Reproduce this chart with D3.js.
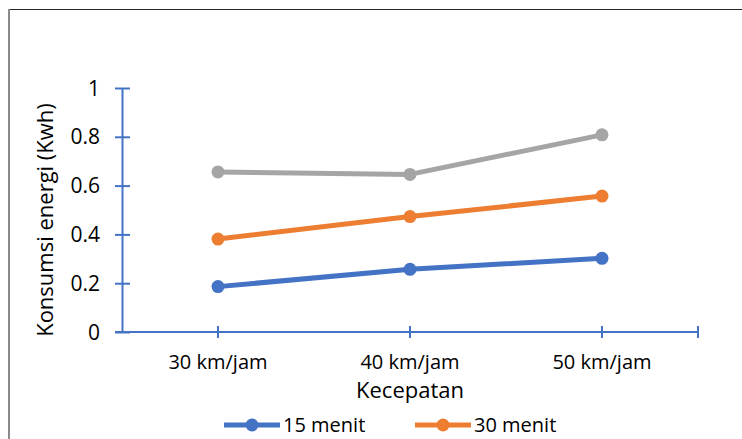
<!DOCTYPE html>
<html>
<head>
<meta charset="utf-8">
<script src="https://cdn.jsdelivr.net/npm/d3@7"></script>
<style>
  html, body { margin: 0; padding: 0; background: #fff; overflow: hidden; }
  svg { display: block; }
  svg text { font-family: "Open Sans", "Noto Sans", sans-serif; fill: #000; }
</style>
</head>
<body>
<svg id="chart" width="742" height="439"></svg>
<script>
// Speed categories and energy use per charging duration
const categories = ["30 km/jam", "40 km/jam", "50 km/jam"];
const seriesNames = ["15 menit", "30 menit", "60 menit"];
const values15 = [0.186, 0.257, 0.302];
const values30 = [0.381, 0.473, 0.557];
const values60 = [0.656, 0.646, 0.808];
const yTicks = [0, 0.2, 0.4, 0.6, 0.8, 1];
const colors = ["#4472C4", "#ED7D31", "#A5A5A5"];

const series = [values15, values30, values60].map((v, i) => ({
  name: seriesNames[i], values: v, color: colors[i]
}));

const svg = d3.select("#chart");
const W = 742, H = 439;
const plot = { left: 122, right: 698, top: 88, bottom: 332 };
const axisColor = "#4472C4";

// Chart frame edges
svg.append("line").attr("x1", 8).attr("x2", W).attr("y1", 9.5).attr("y2", 9.5)
  .attr("stroke", "#222").attr("stroke-width", 1.2);
svg.append("line").attr("x1", 9).attr("x2", 9).attr("y1", 9).attr("y2", H)
  .attr("stroke", "#8a8a8a").attr("stroke-width", 2);

const x = d3.scaleBand().domain(categories).range([plot.left, plot.right]).padding(0);
const cx = c => x(c) + x.bandwidth() / 2;
const y = d3.scaleLinear().domain([0, 1]).range([plot.bottom, plot.top]);

// Y axis with ticks crossing the line
const yAxis = svg.append("g").attr("transform", `translate(${plot.left},0)`)
  .call(d3.axisLeft(y).tickValues(yTicks).tickFormat(d => String(+d.toFixed(1))).tickSize(0).tickPadding(22));
yAxis.select(".domain").attr("stroke", axisColor).attr("stroke-width", 2);
yAxis.selectAll(".tick text").attr("font-size", 21).attr("dy", "0.34em");
yAxis.selectAll(".tick").append("line").attr("x1", -7).attr("x2", 8)
  .attr("stroke", axisColor).attr("stroke-width", 2);

// X axis: ticks at category centres and the right end
const xg = svg.append("g").attr("transform", `translate(0,${plot.bottom})`);
xg.append("line").attr("x1", plot.left - 7).attr("x2", plot.right)
  .attr("stroke", axisColor).attr("stroke-width", 2);
const xTickPos = categories.map(cx).concat([plot.right]);
xg.selectAll("line.tk").data(xTickPos).join("line").attr("class", "tk")
  .attr("x1", d => d).attr("x2", d => d).attr("y1", -6).attr("y2", 6)
  .attr("stroke", axisColor).attr("stroke-width", 2);
xg.selectAll("text.cat").data(categories).join("text").attr("class", "cat")
  .attr("x", d => cx(d)).attr("y", 37).attr("text-anchor", "middle")
  .attr("font-size", 20).text(d => d);

// Axis titles
svg.append("text").attr("x", plot.left + (plot.right - plot.left) / 2).attr("y", 398)
  .attr("text-anchor", "middle").attr("font-size", 22).text("Kecepatan");
svg.append("text").attr("transform", `translate(53,${(plot.top + plot.bottom) / 2 + 10}) rotate(-90)`)
  .attr("text-anchor", "middle").attr("font-size", 22).text("Konsumsi energi (Kwh)");

// Series lines and markers
const line = d3.line().x((d, i) => cx(categories[i])).y(d => y(d));
series.forEach(s => {
  svg.append("path").datum(s.values).attr("d", line).attr("fill", "none")
    .attr("stroke", s.color).attr("stroke-width", 5).attr("stroke-linejoin", "round");
  svg.selectAll(null).data(s.values).join("circle")
    .attr("cx", (d, i) => cx(categories[i])).attr("cy", d => y(d)).attr("r", 6.5)
    .attr("fill", s.color);
});

// Legend row along the lower edge of the frame
const legendItems = [
  { s: series[0], x0: 224 },
  { s: series[1], x0: 415 }
];
const ly = 425;
legendItems.forEach(({ s, x0 }) => {
  const g = svg.append("g");
  g.append("line").attr("x1", x0).attr("x2", x0 + 56).attr("y1", ly).attr("y2", ly)
    .attr("stroke", s.color).attr("stroke-width", 5);
  g.append("circle").attr("cx", x0 + 28).attr("cy", ly).attr("r", 6.5).attr("fill", s.color);
  g.append("text").attr("x", x0 + 59).attr("y", ly + 7).attr("font-size", 20).text(s.name);
});
</script>
</body>
</html>
